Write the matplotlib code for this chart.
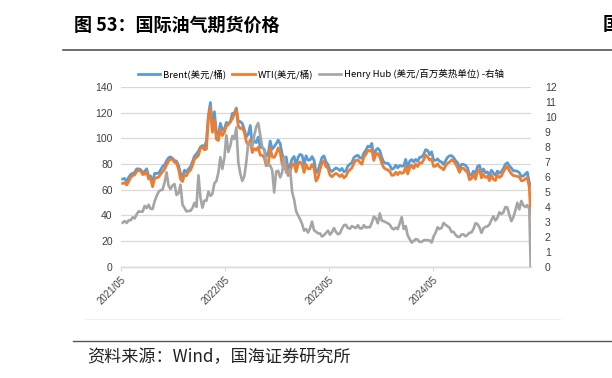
import matplotlib
matplotlib.use("Agg")
import matplotlib.pyplot as plt
import matplotlib.dates as mdates
import pandas as pd
import numpy as np

plt.rcParams['font.family'] = ['Liberation Sans', 'Noto Sans CJK SC', 'DejaVu Sans']

# Weekly values (Fridays) from 2021-05-07, plus final point 2025-04-09
brent = [
    # 2021
    68.3, 68.7, 66.4, 69.6,
    71.9, 72.7, 73.5, 76.2,
    76.2, 75.6, 73.6, 74.1, 76.3,
    70.7, 70.6, 65.2, 72.7,
    72.6, 72.9, 75.3, 78.1,
    79.3, 82.4, 84.9, 85.5, 84.4,
    82.7, 82.2, 78.9, 72.7,
    69.9, 75.2, 73.5, 76.1, 77.8,
    # 2022
    81.8, 86.1, 87.9, 90.0,
    93.3, 94.4, 93.5, 97.9,
    118.1, 127.9, 107.9, 120.7,
    104.4, 102.8, 111.7, 106.7, 107.1,
    112.4, 111.6, 112.6, 119.4,
    119.7, 123.6, 113.1, 113.1,
    111.6, 107.0, 101.2, 103.2, 110.0,
    94.9, 98.2, 96.7, 101.0,
    93.0, 92.8, 91.4, 86.2, 88.0,
    97.9, 91.6, 93.5, 95.8,
    98.6, 96.0, 87.6, 83.6,
    85.6, 76.1, 79.0, 83.9, 85.9,
    # 2023
    78.6, 85.3, 87.6, 86.7,
    79.9, 86.4, 83.0, 83.2,
    85.8, 82.8, 73.0, 75.0, 79.8,
    85.1, 86.3, 81.7, 79.5,
    75.3, 74.2, 75.6, 77.0,
    76.1, 74.8, 76.6, 73.9, 74.9,
    78.5, 79.9, 81.1, 85.0,
    86.2, 86.8, 84.8, 84.5,
    88.6, 90.7, 93.9, 93.3, 96.0,
    84.6, 90.9, 92.2, 90.5,
    84.9, 81.4, 80.6, 80.6,
    78.9, 75.8, 76.6, 79.1, 77.0,
    # 2024
    78.8, 78.3, 78.6, 83.6,
    77.3, 82.2, 83.5, 81.6,
    83.6, 82.1, 85.3, 85.4, 87.5,
    91.2, 90.5, 87.3, 89.5,
    83.0, 82.8, 84.0, 82.1, 81.6,
    79.6, 82.6, 85.2, 86.4,
    86.5, 85.0, 82.6, 81.1,
    76.8, 79.7, 79.7, 79.0, 76.9,
    71.1, 71.6, 74.5, 72.0,
    78.1, 79.0, 73.1, 76.1,
    73.1, 73.9, 71.0, 75.2, 72.9,
    71.1, 74.5, 72.9, 74.2,
    # 2025
    76.5, 79.8, 81.0, 78.5, 76.8,
    74.7, 74.7, 74.4, 73.2,
    70.4, 70.6, 72.2, 73.6,
    65.6, 63.0,
]

wti = [
    # 2021
    64.9, 65.4, 63.6, 66.3,
    69.6, 70.9, 71.6, 74.1,
    75.2, 74.6, 71.8, 72.1, 74.0,
    68.3, 68.4, 62.3, 68.7,
    69.3, 69.7, 72.0, 74.0,
    75.9, 79.4, 82.3, 83.8, 83.6,
    81.3, 80.8, 76.1, 68.2,
    66.3, 71.7, 70.9, 73.8, 75.2,
    # 2022
    78.9, 83.8, 85.1, 86.8,
    92.3, 93.1, 91.1, 91.6,
    115.7, 123.7, 104.7, 113.9,
    99.3, 98.3, 107.0, 102.1, 104.7,
    109.8, 110.5, 113.2, 115.1,
    118.9, 122.1, 109.6, 107.6,
    108.4, 104.8, 97.6, 94.7, 98.6,
    89.0, 92.1, 90.8, 93.1,
    86.9, 86.8, 85.1, 78.7, 79.5,
    92.6, 85.6, 85.1, 87.9,
    92.6, 89.0, 80.1, 76.3,
    80.0, 71.0, 74.3, 79.6, 80.3,
    # 2023
    73.8, 79.9, 81.6, 79.7,
    73.4, 79.7, 76.3, 76.3,
    79.7, 76.7, 66.7, 69.3, 75.7,
    80.7, 82.5, 77.9, 76.8,
    71.3, 70.0, 71.7, 72.7,
    71.7, 70.2, 71.8, 69.2, 70.6,
    73.9, 75.4, 77.1, 80.6,
    82.8, 83.2, 81.3, 79.8,
    85.6, 87.5, 90.8, 90.0, 91.5,
    82.8, 87.7, 88.1, 85.5,
    80.5, 77.2, 75.9, 75.5,
    74.1, 71.2, 71.4, 73.6, 71.7,
    # 2024
    73.8, 72.7, 73.4, 78.0,
    72.3, 76.8, 79.2, 76.5,
    80.0, 78.0, 81.0, 80.6, 83.2,
    86.9, 85.7, 83.1, 83.9,
    78.1, 78.3, 80.1, 77.7, 77.0,
    75.5, 78.5, 80.7, 81.5,
    83.2, 82.2, 80.1, 77.2,
    73.5, 76.8, 76.7, 74.8, 73.6,
    67.7, 68.7, 71.9, 68.2,
    74.4, 75.6, 69.2, 71.8,
    69.5, 70.4, 67.0, 71.2, 68.0,
    67.2, 71.3, 69.5, 70.6,
    # 2025
    74.0, 76.6, 77.9, 74.7, 72.5,
    71.0, 70.7, 70.4, 69.8,
    67.0, 67.2, 68.3, 69.4,
    62.0, 40.0,
]

henry_hub = [
    # 2021
    2.94, 3.05, 2.92, 3.10,
    3.10, 3.30, 3.22, 3.50,
    3.70, 3.67, 3.68, 4.06, 3.91,
    4.14, 3.86, 3.85, 4.37,
    4.71, 5.00, 5.11, 5.14,
    5.62, 6.30, 5.41, 5.18, 5.43,
    5.52, 4.79, 4.90, 5.48,
    4.13, 3.93, 3.69, 3.73, 3.73,
    # 2022
    3.92, 4.26, 3.99, 6.10,
    4.60, 3.94, 4.42, 4.40,
    5.01, 4.73, 4.86, 5.57,
    5.72, 6.28, 7.31, 6.53, 7.24,
    8.78, 7.66, 8.08, 8.73,
    8.52, 9.30, 6.97, 6.22,
    5.73, 6.03, 6.98, 8.27, 8.23,
    8.06, 8.77, 9.34, 9.60,
    8.79, 8.00, 7.77, 6.95, 6.77,
    6.75, 6.45, 4.96, 6.36,
    6.40, 5.96, 6.30, 7.31,
    6.28, 6.23, 6.52, 5.00, 4.48,
    # 2023
    3.71, 3.42, 3.17, 2.85,
    2.41, 2.51, 2.28, 2.56,
    3.01, 2.43, 2.34, 2.22, 2.22,
    2.01, 2.11, 2.25, 2.41,
    2.14, 2.31, 2.58, 2.32,
    2.17, 2.23, 2.54, 2.77, 2.80,
    2.58, 2.54, 2.71, 2.64,
    2.58, 2.77, 2.56, 2.55,
    2.77, 2.61, 2.65, 2.63, 2.93,
    3.34, 3.24, 2.90, 3.56,
    3.08, 3.03, 2.97, 2.90,
    2.81, 2.58, 2.49, 2.61, 2.51,
    # 2024
    2.89, 3.31, 2.52, 2.71,
    2.08, 1.85, 1.61, 1.72,
    1.84, 1.81, 1.65, 1.66, 1.76,
    1.78, 1.77, 1.75, 1.61,
    2.03, 2.27, 2.63, 2.52, 2.59,
    2.92, 2.80, 2.70, 2.60,
    2.32, 2.33, 2.13, 2.00,
    1.99, 2.15, 2.16, 2.03, 2.13,
    2.27, 2.29, 2.52, 2.90,
    2.85, 2.63, 2.26, 2.56,
    2.66, 2.69, 2.82, 3.12, 3.36,
    3.08, 3.27, 3.63, 3.51,
    # 2025
    3.63, 3.99, 3.95, 3.46, 3.04,
    3.31, 3.75, 4.27, 3.83,
    4.39, 4.10, 3.98, 4.11,
    3.84, 0.0,
]

n = min(len(brent), len(wti), len(henry_hub))
dates = list(pd.date_range('2021-05-07', periods=n - 1, freq='7D')) + [pd.Timestamp('2025-04-09')]
dates = pd.DatetimeIndex(dates)

tick_dates = pd.to_datetime(['2021-05-01', '2022-05-01', '2023-05-01', '2024-05-01'])
tick_labels = ['2021/05', '2022/05', '2023/05', '2024/05']

labels = ['Brent(美元/桶)', 'WTI(美元/桶)', 'Henry Hub (美元/百万英热单位) -右轴']
colors = ['#5B9BD5', '#ED7D31', '#A5A5A5']

W, H = 612, 378
fig = plt.figure(figsize=(W / 100, H / 100), dpi=100)

ax = fig.add_axes([121 / W, 1 - 266.7 / H, 410 / W, 179.7 / H])
ax2 = ax.twinx()

l1, = ax.plot(dates, brent[:n], color=colors[0], lw=2.0, zorder=3)
l2, = ax.plot(dates, wti[:n], color=colors[1], lw=2.0, zorder=4)
l3, = ax2.plot(dates, henry_hub[:n], color=colors[2], lw=1.9, zorder=3)

ax.set_xlim(pd.Timestamp('2021-05-01'), pd.Timestamp('2025-04-10'))
ax.set_ylim(0, 140)
ax.set_yticks(range(0, 141, 20))
ax2.set_ylim(0, 12)
ax2.set_yticks(range(0, 13, 1))

ax.grid(axis='y', color='#D9D9D9', lw=0.9)
ax.set_axisbelow(True)

for a in (ax, ax2):
    for s in ('top', 'left', 'right'):
        a.spines[s].set_visible(False)
    a.spines['bottom'].set_color('#D9D9D9')
    a.spines['bottom'].set_linewidth(0.9)

ax.set_xticks(tick_dates)
ax.set_xticklabels(tick_labels, rotation=45, ha='right', va='top', rotation_mode='anchor')
ax.tick_params(axis='x', length=3, color='#D9D9D9', labelsize=7, pad=3, labelcolor='#404040')
ax.tick_params(axis='y', length=0, labelsize=7.5, pad=6, labelcolor='#404040')
ax2.tick_params(axis='y', length=0, labelsize=7.5, pad=10, labelcolor='#404040')
for t in ax2.get_yticklabels():
    t.set_ha('left')

leg_font = {'family': ['Noto Sans CJK SC', 'DejaVu Sans'], 'size': 6.8}
fig.legend([l1, l2, l3], labels, loc='center', bbox_to_anchor=(321 / W, 1 - 74 / H),
           ncol=3, frameon=False, prop=leg_font, handlelength=2.4, columnspacing=0.6,
           handletextpad=0.3)

# Title and rules
fig.text(74 / W, 1 - 25 / H, '图 53：国际油气期货价格', fontsize=13, fontweight='bold',
         family=['Noto Sans CJK SC', 'DejaVu Sans'], va='center', ha='left')
fig.text(603 / W, 1 - 25 / H, '国', fontsize=13, fontweight='bold',
         family=['Noto Sans CJK SC', 'DejaVu Sans'], va='center', ha='left')
fig.add_artist(plt.Line2D([63 / W, 1], [1 - 49.5 / H, 1 - 49.5 / H], color='#555555', lw=1.2))
fig.add_artist(plt.Line2D([85 / W, 560 / W], [1 - 319 / H, 1 - 319 / H], color='#F0F0F0', lw=0.8))
fig.add_artist(plt.Line2D([73 / W, 1], [1 - 341 / H, 1 - 341 / H], color='#555555', lw=1.0))
fig.text(87 / W, 1 - 357 / H, '资料来源：Wind，国海证券研究所', fontsize=12.3,
         family=['Noto Sans CJK SC', 'DejaVu Sans'], va='center', ha='left', color='#222222')

fig.savefig('out.png', dpi=100)
